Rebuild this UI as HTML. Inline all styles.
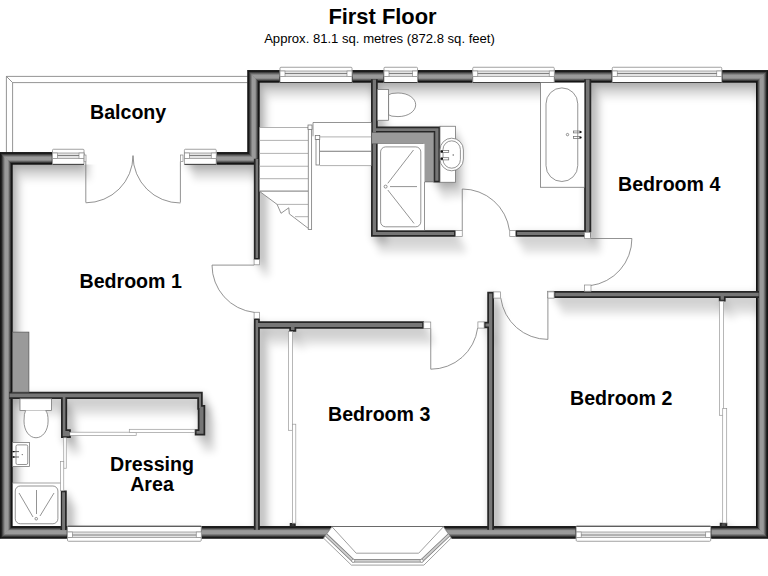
<!DOCTYPE html>
<html><head><meta charset="utf-8">
<style>
html,body{margin:0;padding:0;background:#fff;width:768px;height:576px;overflow:hidden}
svg{display:block;position:absolute;left:0;top:0}
text{font-family:"Liberation Sans",sans-serif}
</style></head><body>
<svg width="768" height="576" viewBox="0 0 768 576">

<defs>
  <filter id="shadow" x="-10%" y="-10%" width="120%" height="120%" color-interpolation-filters="sRGB">
    <feGaussianBlur in="SourceAlpha" stdDeviation="3.2" result="b"/>
    <feOffset in="b" dx="1.0" dy="1.5" result="o1"/>
    <feOffset in="b" dx="3.0" dy="5.0" result="o2"/>
    <feOffset in="b" dx="5.5" dy="10.0" result="o3"/>
    <feOffset in="b" dx="8.5" dy="16.0" result="o4"/>
    <feComposite in="o1" in2="o2" operator="arithmetic" k2="0.5" k3="0.5" result="c1"/>
    <feComposite in="o3" in2="o4" operator="arithmetic" k2="0.5" k3="0.5" result="c2"/>
    <feComposite in="c1" in2="c2" operator="arithmetic" k2="0.5" k3="0.5" result="c"/>
    <feGaussianBlur in="c" stdDeviation="1.5"/>
    <feComponentTransfer><feFuncA type="linear" slope="0.35"/></feComponentTransfer>
  </filter>
  <clipPath id="interior">
    <path d="M12.5 164.4 H259.5 V82.5 H756 V526.25 H12.5 Z"/>
  </clipPath>
<path id="thinWalls" d="M253.85 158.75H259.85V259.75H253.85ZM253.85 318.25H259.85V529.75H253.85ZM371 79.25H377.75V236.85H371ZM376.75 126.5H440.25V132.75H376.75ZM433.5 126.5H440.25V182.5H433.5ZM371 230.15H455.85V236.85H371ZM515.35 230.15H590.85V236.85H515.35ZM584.15 79.25H591.25V232.25H584.15ZM553.5 291H759V298H553.5ZM487.25 291.65H494V529.75H487.25ZM483.75 321.65H488.25V328.35H483.75ZM258.75 321.35H424V328.85H258.75ZM9.25 391.85H202.75V399H9.25ZM197.25 391.85H202.75V409.85H197.25ZM197.75 405H205.25V435.5H197.75ZM194.75 429.35H205.25V435.5H194.75ZM61 397.75H67.15V438H61ZM61 429.35H70.85V438H61ZM60.35 490.5H66.75V530H60.35ZM718.85 296.75H725.65V301.45H718.85ZM719.75 522.75H727.25V527.25H719.75ZM289.25 327.75H296.25V331.85H289.25ZM289.75 523H295.75V527H289.75Z"/>
</defs>

<text x="382.5" y="24.2" font-size="21.9" font-weight="bold" text-anchor="middle" fill="#000">First Floor</text>
<text x="379.5" y="42.9" font-size="13.1" text-anchor="middle" fill="#000">Approx. 81.1 sq. metres (872.8 sq. feet)</text>
<g fill="none" stroke="#7a7a7a" stroke-width="0.8">
  <path d="M6.4 152.25 V76.4 H247.5"/>
  <path d="M12.6 152.25 V82.6 H247.5"/>
  <path d="M6.4 76.4 L12.6 82.6"/>
</g>
<g clip-path="url(#interior)">
<g filter="url(#shadow)">
  <path fill="#000" fill-rule="evenodd" d="M-60 -60 H830 V640 H-60 Z M12.5 164.4 H82 V110 H184 V164.4 H259.5 V82.5 H756 V526.25 H443.3 L418.3 553.1 H356.25 L331.9 526.25 H12.5 Z"/>
  <use href="#thinWalls" fill="#000" stroke="#000" stroke-width="2.5"/>
  <rect x="440" y="126.25" width="15.4" height="56"/>
</g>
</g>
<defs><linearGradient id="gT" gradientUnits="userSpaceOnUse" x1="0" y1="70.25" x2="0" y2="82.5"><stop offset="0" stop-color="#121212"/><stop offset="0.1" stop-color="#1a1a1a"/><stop offset="0.24" stop-color="#5a5a5a"/><stop offset="0.4" stop-color="#9a9a9a"/><stop offset="0.64" stop-color="#9a9a9a"/><stop offset="0.78" stop-color="#5a5a5a"/><stop offset="0.91" stop-color="#161616"/><stop offset="1" stop-color="#0e0e0e"/></linearGradient><linearGradient id="gR" gradientUnits="userSpaceOnUse" x1="768" y1="0" x2="756" y2="0"><stop offset="0" stop-color="#121212"/><stop offset="0.1" stop-color="#1a1a1a"/><stop offset="0.24" stop-color="#5a5a5a"/><stop offset="0.4" stop-color="#9a9a9a"/><stop offset="0.64" stop-color="#9a9a9a"/><stop offset="0.78" stop-color="#5a5a5a"/><stop offset="0.91" stop-color="#161616"/><stop offset="1" stop-color="#0e0e0e"/></linearGradient><linearGradient id="gB" gradientUnits="userSpaceOnUse" x1="0" y1="538.5" x2="0" y2="526.25"><stop offset="0" stop-color="#121212"/><stop offset="0.1" stop-color="#1a1a1a"/><stop offset="0.24" stop-color="#5a5a5a"/><stop offset="0.4" stop-color="#9a9a9a"/><stop offset="0.64" stop-color="#9a9a9a"/><stop offset="0.78" stop-color="#5a5a5a"/><stop offset="0.91" stop-color="#161616"/><stop offset="1" stop-color="#0e0e0e"/></linearGradient><linearGradient id="gL" gradientUnits="userSpaceOnUse" x1="0" y1="0" x2="12.5" y2="0"><stop offset="0" stop-color="#121212"/><stop offset="0.1" stop-color="#1a1a1a"/><stop offset="0.24" stop-color="#5a5a5a"/><stop offset="0.4" stop-color="#9a9a9a"/><stop offset="0.64" stop-color="#9a9a9a"/><stop offset="0.78" stop-color="#5a5a5a"/><stop offset="0.91" stop-color="#161616"/><stop offset="1" stop-color="#0e0e0e"/></linearGradient><linearGradient id="gH1" gradientUnits="userSpaceOnUse" x1="0" y1="152.25" x2="0" y2="164.4"><stop offset="0" stop-color="#121212"/><stop offset="0.1" stop-color="#1a1a1a"/><stop offset="0.24" stop-color="#5a5a5a"/><stop offset="0.4" stop-color="#9a9a9a"/><stop offset="0.64" stop-color="#9a9a9a"/><stop offset="0.78" stop-color="#5a5a5a"/><stop offset="0.91" stop-color="#161616"/><stop offset="1" stop-color="#0e0e0e"/></linearGradient><linearGradient id="gS" gradientUnits="userSpaceOnUse" x1="247.5" y1="0" x2="259.5" y2="0"><stop offset="0" stop-color="#121212"/><stop offset="0.1" stop-color="#1a1a1a"/><stop offset="0.24" stop-color="#5a5a5a"/><stop offset="0.4" stop-color="#9a9a9a"/><stop offset="0.64" stop-color="#9a9a9a"/><stop offset="0.78" stop-color="#5a5a5a"/><stop offset="0.91" stop-color="#161616"/><stop offset="1" stop-color="#0e0e0e"/></linearGradient></defs>
<path fill="#0b0b0b" d="M0 152.25H52.5V164.4H0ZM216.25 152.25H259.5V164.4H216.25ZM0 152.25H12.5V538.5H0ZM247.5 70.25H259.5V164.4H247.5ZM247.5 70.25H280V82.5H247.5ZM352 70.25H384V82.5H352ZM417.5 70.25H472.75V82.5H417.5ZM554.25 70.25H612.25V82.5H554.25ZM721.75 70.25H768V82.5H721.75ZM756 70.25H768V538.5H756ZM0 526.25H67.5V538.5H0ZM201.25 526.25H331.9L323.5 538.5H201.25ZM443.3 526.25H576.2V538.5H451.7ZM710.7 526.25H768V538.5H710.7Z"/>
<path fill="url(#gT)" d="M246.9 70.25H279.3 V82.5H258.9Z"/>
<path fill="url(#gT)" d="M352.7 70.25H383.3 V82.5H352.7Z"/>
<path fill="url(#gT)" d="M418.2 70.25H472.05 V82.5H418.2Z"/>
<path fill="url(#gT)" d="M554.95 70.25H611.55 V82.5H554.95Z"/>
<path fill="url(#gT)" d="M722.45 70.25H768.6L756.6 82.5H722.45Z"/>
<path fill="url(#gR)" d="M768 70.25V538.5L756 526.25V82.5Z"/>
<path fill="url(#gB)" d="M-0.6 538.5L11.9 526.25H66.8V538.5Z"/>
<path fill="url(#gB)" d="M201.95 526.25H331.9L323.5 538.5H201.95Z"/>
<path fill="url(#gB)" d="M443.3 526.25H575.5V538.5H451.7Z"/>
<path fill="url(#gB)" d="M711.4 526.25H756.6L768.6 538.5H711.4Z"/>
<path fill="url(#gL)" d="M0 152.25L12.5 164.4V526.25L0 538.5Z"/>
<path fill="url(#gH1)" d="M-0.6 152.25H51.8V164.4H11.9Z"/>
<path fill="url(#gH1)" d="M216.95 152.25H248.1L260.1 164.4H216.95Z"/>
<path fill="url(#gS)" d="M247.5 70.25L259.5 82.5V164.4L247.5 152.25Z"/>
<use href="#thinWalls" fill="#262626"/>
<path fill="#767676" d="M255.6 166L255.6 258L258.1 258L258.1 166L258.1 160.5L258.1 159L255.6 159L255.6 160.5ZM11 397.25L62.75 397.25L62.75 436.25L69.1 436.25L69.1 431.1L65.4 431.1L65.4 397.25L199 397.25L199 408.1L199.5 408.1L199.5 431.1L196.5 431.1L196.5 433.75L203.5 433.75L203.5 406.75L201 406.75L201 393.6L14 393.6L11 393.6L9.5 393.6L9.5 397.2L11 397.2ZM422.25 323.1L258.1 323.1L258.1 320L255.6 320L255.6 524L255.6 528L255.6 530L258.1 530L258.1 528L258.1 524L258.1 327.1L291 327.1L291 330.1L294.5 330.1L294.5 327.1L422.25 327.1ZM62.1 492.25L62.1 524L62.1 528.25L62.1 530L65 530L65 528.25L65 524L65 492.25ZM294 524.75L291.5 524.75L291.5 525.25L294 525.25ZM372.75 235.1L454.1 235.1L454.1 231.9L376 231.9L376 131L435.25 131L435.25 180.75L438.5 180.75L438.5 128.25L376 128.25L376 84L376 81L376 79.5L372.75 79.5L372.75 81L372.75 84ZM585.9 231.9L517.1 231.9L517.1 235.1L589.1 235.1L589.1 230.5L589.5 230.5L589.5 84L589.5 81L589.5 79.5L585.9 79.5L585.9 81L585.9 84ZM754 292.75L555.25 292.75L555.25 296.25L720.6 296.25L720.6 299.7L723.9 299.7L723.9 296.25L754 296.25L757.25 296.25L758.75 296.25L758.75 292.75L757.25 292.75ZM489 323.4L485.5 323.4L485.5 326.6L489 326.6L489 524L489 528L489 530L492.25 530L492.25 528L492.25 524L492.25 293.4L489 293.4ZM721.5 525.5L725.5 525.5L725.5 524.5L721.5 524.5Z"/>
<g><rect x="52.5" y="149.25" width="31.5" height="15.15" fill="#fff" stroke="#8a8a8a" stroke-width="0.8" rx="1"/>
<rect x="52.5" y="153" width="31.5" height="5.5" fill="#e4e4e4" stroke="#8a8a8a" stroke-width="0.7"/>
<rect x="52.5" y="153" width="5" height="5.5" fill="#fff" stroke="#8a8a8a" stroke-width="0.7"/>
<rect x="79" y="153" width="5" height="5.5" fill="#fff" stroke="#8a8a8a" stroke-width="0.7"/>
<path d="M57.5 155.5H79" stroke="#666" stroke-width="0.8"/>
<path d="M52.5 164.4H84" stroke="#333" stroke-width="0.9"/>
<rect x="184.4" y="149.25" width="31.85" height="15.15" fill="#fff" stroke="#8a8a8a" stroke-width="0.8" rx="1"/>
<rect x="184.4" y="153" width="31.85" height="5.5" fill="#e4e4e4" stroke="#8a8a8a" stroke-width="0.7"/>
<rect x="184.4" y="153" width="5" height="5.5" fill="#fff" stroke="#8a8a8a" stroke-width="0.7"/>
<rect x="211.25" y="153" width="5" height="5.5" fill="#fff" stroke="#8a8a8a" stroke-width="0.7"/>
<path d="M189.4 155.5H211.25" stroke="#666" stroke-width="0.8"/>
<path d="M184.4 164.4H216.25" stroke="#333" stroke-width="0.9"/>
<rect x="280" y="67.25" width="72" height="15.25" fill="#fff" stroke="#8a8a8a" stroke-width="0.8" rx="1"/>
<rect x="280" y="71" width="72" height="5.5" fill="#e4e4e4" stroke="#8a8a8a" stroke-width="0.7"/>
<rect x="280" y="71" width="5" height="5.5" fill="#fff" stroke="#8a8a8a" stroke-width="0.7"/>
<rect x="347" y="71" width="5" height="5.5" fill="#fff" stroke="#8a8a8a" stroke-width="0.7"/>
<path d="M285 73.5H347" stroke="#666" stroke-width="0.8"/>
<path d="M280 82.5H352" stroke="#333" stroke-width="0.9"/>
<rect x="384" y="67.25" width="33.5" height="15.25" fill="#fff" stroke="#8a8a8a" stroke-width="0.8" rx="1"/>
<rect x="384" y="71" width="33.5" height="5.5" fill="#e4e4e4" stroke="#8a8a8a" stroke-width="0.7"/>
<rect x="384" y="71" width="5" height="5.5" fill="#fff" stroke="#8a8a8a" stroke-width="0.7"/>
<rect x="412.5" y="71" width="5" height="5.5" fill="#fff" stroke="#8a8a8a" stroke-width="0.7"/>
<path d="M389 73.5H412.5" stroke="#666" stroke-width="0.8"/>
<path d="M384 82.5H417.5" stroke="#333" stroke-width="0.9"/>
<rect x="472.75" y="67.25" width="81.5" height="15.25" fill="#fff" stroke="#8a8a8a" stroke-width="0.8" rx="1"/>
<rect x="472.75" y="71" width="81.5" height="5.5" fill="#e4e4e4" stroke="#8a8a8a" stroke-width="0.7"/>
<rect x="472.75" y="71" width="5" height="5.5" fill="#fff" stroke="#8a8a8a" stroke-width="0.7"/>
<rect x="549.25" y="71" width="5" height="5.5" fill="#fff" stroke="#8a8a8a" stroke-width="0.7"/>
<path d="M477.75 73.5H549.25" stroke="#666" stroke-width="0.8"/>
<path d="M472.75 82.5H554.25" stroke="#333" stroke-width="0.9"/>
<rect x="612.25" y="67.25" width="109.5" height="15.25" fill="#fff" stroke="#8a8a8a" stroke-width="0.8" rx="1"/>
<rect x="612.25" y="71" width="109.5" height="5.5" fill="#e4e4e4" stroke="#8a8a8a" stroke-width="0.7"/>
<rect x="612.25" y="71" width="5" height="5.5" fill="#fff" stroke="#8a8a8a" stroke-width="0.7"/>
<rect x="716.75" y="71" width="5" height="5.5" fill="#fff" stroke="#8a8a8a" stroke-width="0.7"/>
<path d="M617.25 73.5H716.75" stroke="#666" stroke-width="0.8"/>
<path d="M612.25 82.5H721.75" stroke="#333" stroke-width="0.9"/>
<rect x="67.5" y="526.25" width="133.75" height="15" fill="#fff" stroke="#8a8a8a" stroke-width="0.8" rx="1"/>
<rect x="67.5" y="532" width="133.75" height="5.5" fill="#e4e4e4" stroke="#8a8a8a" stroke-width="0.7"/>
<rect x="67.5" y="532" width="5" height="5.5" fill="#fff" stroke="#8a8a8a" stroke-width="0.7"/>
<rect x="196.25" y="532" width="5" height="5.5" fill="#fff" stroke="#8a8a8a" stroke-width="0.7"/>
<path d="M72.5 535H196.25" stroke="#666" stroke-width="0.8"/>
<path d="M67.5 526.25H201.25" stroke="#333" stroke-width="0.9"/>
<rect x="576.2" y="526.25" width="134.5" height="15" fill="#fff" stroke="#8a8a8a" stroke-width="0.8" rx="1"/>
<rect x="576.2" y="532" width="134.5" height="5.5" fill="#e4e4e4" stroke="#8a8a8a" stroke-width="0.7"/>
<rect x="576.2" y="532" width="5" height="5.5" fill="#fff" stroke="#8a8a8a" stroke-width="0.7"/>
<rect x="705.7" y="532" width="5" height="5.5" fill="#fff" stroke="#8a8a8a" stroke-width="0.7"/>
<path d="M581.2 535H705.7" stroke="#666" stroke-width="0.8"/>
<path d="M576.2 526.25H710.7" stroke="#333" stroke-width="0.9"/></g>
<g><path fill="none" stroke="#777" stroke-width="0.8" d="M85.8 161.6V202.5 M85.8 202.8A47.2 47.2 0 0 0 133 155.6"/>
<path fill="none" stroke="#777" stroke-width="0.8" d="M180.4 161.6V202.5 M180.4 203A47.4 47.4 0 0 1 133 155.6"/>
<path fill="none" stroke="#777" stroke-width="0.8" d="M254.1 265.1H212 M212 265.1A47.6 47.6 0 0 0 254.21 312.39"/>
<path fill="none" stroke="#777" stroke-width="0.8" d="M462.25 230.4V189 M462.25 189A47.6 47.6 0 0 1 509.44 230.39"/>
<path fill="none" stroke="#777" stroke-width="0.8" d="M590.4 238.5H631.9 M631.9 238.5A47.5 47.5 0 0 1 590.44 285.61"/>
<path fill="none" stroke="#777" stroke-width="0.8" d="M547.9 298.1V339.4 M500.81 298.1A47.5 47.5 0 0 0 547.9 339.4"/>
<path fill="none" stroke="#777" stroke-width="0.8" d="M430.75 328.6V369.2 M477.65 328.07A47.3 47.3 0 0 1 430.75 369.2"/></g>
<g><rect x="84.1" y="155" width="1.9" height="6.6" fill="#fff" stroke="#888" stroke-width="0.7"/><rect x="180.4" y="155" width="2.6" height="6.6" fill="#fff" stroke="#888" stroke-width="0.7"/><rect x="254.1" y="259.5" width="5.5" height="5.3" fill="#fff" stroke="#888" stroke-width="0.7"/><rect x="254.1" y="312.25" width="5.5" height="6.25" fill="#fff" stroke="#888" stroke-width="0.7"/><rect x="455.6" y="230.4" width="6.65" height="6.2" fill="#fff" stroke="#888" stroke-width="0.7"/><rect x="509.75" y="230.4" width="5.85" height="6.2" fill="#fff" stroke="#888" stroke-width="0.7"/><rect x="584.4" y="232.25" width="6" height="6.25" fill="#fff" stroke="#888" stroke-width="0.7"/><rect x="584.5" y="285" width="6.5" height="6.25" fill="#fff" stroke="#888" stroke-width="0.7"/><rect x="547.5" y="291.25" width="6.25" height="6.5" fill="#fff" stroke="#888" stroke-width="0.7"/><rect x="493.75" y="291.9" width="6.65" height="6.2" fill="#fff" stroke="#888" stroke-width="0.7"/><rect x="547.9" y="291.9" width="6.2" height="6.2" fill="#fff" stroke="#888" stroke-width="0.7"/><rect x="423.75" y="322" width="7" height="6.6" fill="#fff" stroke="#888" stroke-width="0.7"/><rect x="477.9" y="321.9" width="6.2" height="6.2" fill="#fff" stroke="#888" stroke-width="0.7"/></g>
<g><path fill="#fff" d="M259.6 127.5H308.25V228.3L289.3 213.9L288.8 207.8L281 213.3L277.1 204.4L259.6 191.4Z"/>
<rect x="313" y="122.5" width="58.25" height="43.1" fill="#fff"/>
<path stroke="#a8a8a8" stroke-width="0.9" d="M259.6 127.5H308.25"/>
<path stroke="#a8a8a8" stroke-width="0.9" d="M259.6 140.4H308.25"/>
<path stroke="#a8a8a8" stroke-width="0.9" d="M259.6 153.4H308.25"/>
<path stroke="#a8a8a8" stroke-width="0.9" d="M259.6 166.25H308.25"/>
<path stroke="#a8a8a8" stroke-width="0.9" d="M259.6 178.7H308.25"/>
<path stroke="#555" stroke-width="0.8" d="M259.6 191.1H308.25"/>
<path stroke="#a8a8a8" stroke-width="0.9" d="M277.1 204.4H308.25M295 216.7H308.25"/>
<path fill="none" stroke="#707070" stroke-width="0.75" d="M260 191.7L277.1 204.4L281 213.3L288.8 207.8L289.3 213.9L308.2 228.3"/>
<rect x="308.25" y="127" width="3.4" height="102.4" fill="#fff" stroke="#707070" stroke-width="0.75"/>
<rect x="308" y="125" width="4" height="4.4" fill="#fff" stroke="#707070" stroke-width="0.75"/>
<path fill="none" stroke="#707070" stroke-width="0.75" d="M313 136.25V122.5H371.25"/>
<path stroke="#a8a8a8" stroke-width="0.9" d="M319.75 136.9H371.25M319.75 165.6H371.25"/>
<path stroke="#555" stroke-width="0.8" d="M319.75 151.25H371.25"/>
<rect x="316" y="139.4" width="3.5" height="25.6" fill="#fff" stroke="#707070" stroke-width="0.75"/>
<rect x="315.25" y="135.4" width="4.5" height="4" fill="#fff" stroke="#707070" stroke-width="0.75"/>
<rect x="377.3" y="89.4" width="11.3" height="30.85" fill="#fff" stroke="#707070" stroke-width="0.75"/>
<path fill="#fff" stroke="#707070" stroke-width="0.75" d="M388.6 94.8Q390.5 93 398 93C408.5 93 415.7 98.5 415.7 104.8C415.7 111.1 408.5 116.6 398 116.6Q390.5 116.6 388.6 114.8Z"/>
<path fill="#9a9a9a" stroke="#555" stroke-width="0.6" d="M371.6 132.5H433.75V181.9H422.9V143.75H371.6Z"/>
<rect x="377.8" y="143.9" width="46.7" height="86.2" fill="#fff"/>
<rect x="380.6" y="146.9" width="40.2" height="79.9" rx="5" fill="#fff" stroke="#707070" stroke-width="0.75"/>
<circle cx="385.6" cy="186.6" r="1.5" fill="none" stroke="#707070" stroke-width="0.75"/>
<path fill="none" stroke="#707070" stroke-width="0.75" d="M390 186.6H417M387.8 183.3L413.5 150M387.8 190L414 223.4"/>
<path fill="none" stroke="#707070" stroke-width="0.75" d="M424.5 182V230.4"/>
<rect x="440" y="126.25" width="15.4" height="56" fill="#fff" stroke="#707070" stroke-width="0.75"/>
<rect x="440" y="138.2" width="23.4" height="32.6" rx="11.7" fill="#fff" stroke="#707070" stroke-width="0.75"/>
<rect x="443" y="140.85" width="17.4" height="27.35" rx="8.7" fill="none" stroke="#707070" stroke-width="0.75"/>
<rect x="441.3" y="150.4" width="7.4" height="2.2" fill="#fff" stroke="#707070" stroke-width="0.75"/><rect x="441.3" y="157.7" width="7.4" height="2.2" fill="#fff" stroke="#707070" stroke-width="0.75"/>
<path stroke="#111" stroke-width="2" d="M440.5 151.5H443M440.5 158.8H443"/>
<circle cx="453.2" cy="155" r="0.7" fill="#555"/>
<rect x="540.6" y="82.5" width="43.8" height="104.75" fill="#fff" stroke="#707070" stroke-width="0.75"/>
<rect x="546" y="87.9" width="31.75" height="93.6" rx="15.9" fill="#fff" stroke="#707070" stroke-width="0.75"/>
<rect x="573.6" y="131" width="6.4" height="1.9" fill="none" stroke="#707070" stroke-width="0.75"/><rect x="573.6" y="136.5" width="6.4" height="1.9" fill="none" stroke="#707070" stroke-width="0.75"/>
<circle cx="580.6" cy="132" r="1.1" fill="#111"/><circle cx="580.6" cy="137.5" r="1.1" fill="#111"/>
<circle cx="567.5" cy="134.6" r="1.2" fill="none" stroke="#707070" stroke-width="0.75"/>
<rect x="12.5" y="332.1" width="16.4" height="60" fill="#9a9a9a" stroke="#555" stroke-width="0.7"/>
<rect x="20" y="398.75" width="31.6" height="11.85" fill="#fff" stroke="#707070" stroke-width="0.75"/>
<path fill="#fff" stroke="#707070" stroke-width="0.75" d="M25.6 410.6Q24 413 24 421C24 431 29.5 437.75 36 437.75C42.5 437.75 48.1 431 48.1 421Q48.1 413 45.6 410.6"/>
<rect x="12.5" y="442.6" width="17.1" height="23.8" fill="#fff" stroke="#707070" stroke-width="0.75"/>
<rect x="16" y="444.9" width="11.75" height="19.6" rx="1.5" fill="none" stroke="#707070" stroke-width="0.75"/>
<path stroke="#666" stroke-width="1" d="M13 451.6H19M13 457H19"/>
<path stroke="#111" stroke-width="1.4" d="M12.5 451.6H14.5M12.5 457H14.5"/>
<circle cx="22.25" cy="454.6" r="0.6" fill="#555"/>
<rect x="12.8" y="483" width="47.9" height="43" fill="#fff"/>
<path stroke="#999" stroke-width="0.9" d="M12.5 483H61"/>
<rect x="15.25" y="486" width="42.65" height="37.75" rx="5" fill="#fff" stroke="#707070" stroke-width="0.75"/>
<circle cx="36.25" cy="518.75" r="1.3" fill="none" stroke="#707070" stroke-width="0.75"/>
<path fill="none" stroke="#707070" stroke-width="0.75" d="M36.5 490V514M19 493L33 517M54 493L40 516"/>
<rect x="63.75" y="437.75" width="2.5" height="30.5" fill="#fff" stroke="#999" stroke-width="0.7"/>
<rect x="60.6" y="461.4" width="3.15" height="29.35" fill="#fff" stroke="#999" stroke-width="0.7"/>
<rect x="69.8" y="432.2" width="66.4" height="3.3" fill="#fff" stroke="#999" stroke-width="0.7"/>
<rect x="129.3" y="429.3" width="65.5" height="3.3" fill="#fff" stroke="#999" stroke-width="0.7"/>
<rect x="288.5" y="331.6" width="4.1" height="98.7" fill="#fff" stroke="#999" stroke-width="0.7"/>
<rect x="292.4" y="424.2" width="3.4" height="99" fill="#fff" stroke="#999" stroke-width="0.7"/>
<rect x="719.5" y="301.2" width="4" height="114.1" fill="#fff" stroke="#999" stroke-width="0.7"/>
<rect x="722.7" y="408.5" width="4" height="114.5" fill="#fff" stroke="#999" stroke-width="0.7"/>
<path fill="#fff" stroke="#888" stroke-width="0.8" d="M332 526.8L356.2 553.2H418.7L443.4 526.8L451.2 538L423.9 565.1H351.4L323.6 538.2Z"/>
<path fill="none" stroke="#444" stroke-width="0.8" d="M331.9 526.5H443.4"/>
<path fill="none" stroke="#7a7a7a" stroke-width="3.4" d="M326.2 535.1L353.2 560.8H421.7L448.9 535"/>
<path fill="none" stroke="#cfcfcf" stroke-width="1.9" d="M326.2 535.1L353.2 560.8H421.7L448.9 535"/>
<circle cx="353.2" cy="560.8" r="1.6" fill="#fff" stroke="#777" stroke-width="0.6"/><circle cx="421.7" cy="560.8" r="1.6" fill="#fff" stroke="#777" stroke-width="0.6"/></g>
<g font-size="19.6" font-weight="bold" fill="#000">
  <text x="90" y="118.5">Balcony</text>
  <text x="79.5" y="287.6">Bedroom 1</text>
  <text x="618" y="190.9">Bedroom 4</text>
  <text x="570" y="405">Bedroom 2</text>
  <text x="328" y="421.2">Bedroom 3</text>
  <text x="152" y="470.8" text-anchor="middle">Dressing</text>
  <text x="152" y="490.5" text-anchor="middle">Area</text>
</g>
</svg>
</body></html>
